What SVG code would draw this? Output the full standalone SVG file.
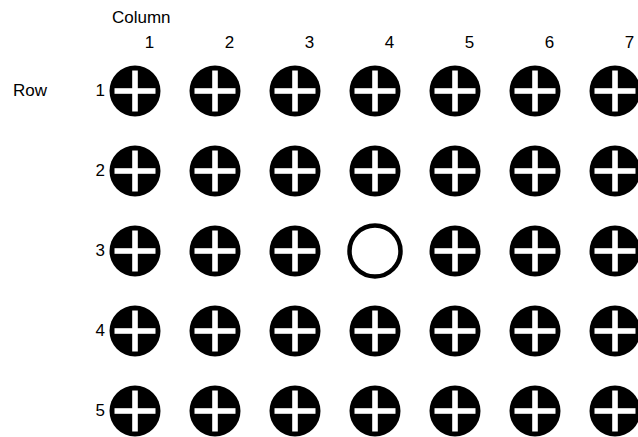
<svg xmlns="http://www.w3.org/2000/svg" width="638" height="437" viewBox="0 0 638 437">
<defs>
<style>
text{font-family:"Liberation Sans",Arial,sans-serif;font-size:17px;fill:#000}
.cl{text-anchor:middle}
.rl{text-anchor:end}
.bar{fill:#fff}
</style>
<g id="plus">
<circle r="25.5" fill="#000"/>
<rect x="-20.5" y="-2.8" width="41" height="5.6" class="bar"/>
<rect x="-2.8" y="-20.5" width="5.6" height="41" class="bar"/>
</g>
</defs>
<rect width="638" height="437" fill="#fff"/>
<g id="labels">
<text x="112" y="23">Column</text>
<text x="13" y="96">Row</text>
<text class="cl" x="149.5" y="48">1</text>
<text class="cl" x="229.5" y="48">2</text>
<text class="cl" x="309.5" y="48">3</text>
<text class="cl" x="389.5" y="48">4</text>
<text class="cl" x="469.5" y="48">5</text>
<text class="cl" x="549.5" y="48">6</text>
<text class="cl" x="629.5" y="48">7</text>
<text class="rl" x="105" y="96">1</text>
<text class="rl" x="105" y="176">2</text>
<text class="rl" x="105" y="256">3</text>
<text class="rl" x="105" y="336">4</text>
<text class="rl" x="105" y="416">5</text>
</g>
<g id="connectors"/>
<g id="row1">
<use href="#plus" x="135" y="91"/><use href="#plus" x="215" y="91"/><use href="#plus" x="295" y="91"/><use href="#plus" x="375" y="91"/><use href="#plus" x="455" y="91"/><use href="#plus" x="535" y="91"/><use href="#plus" x="615" y="91"/>
</g>
<g id="row2">
<use href="#plus" x="135" y="171"/><use href="#plus" x="215" y="171"/><use href="#plus" x="295" y="171"/><use href="#plus" x="375" y="171"/><use href="#plus" x="455" y="171"/><use href="#plus" x="535" y="171"/><use href="#plus" x="615" y="171"/>
</g>
<g id="row3">
<use href="#plus" x="135" y="251"/><use href="#plus" x="215" y="251"/><use href="#plus" x="295" y="251"/>
<circle id="empty" cx="375" cy="251" r="25.5" fill="#fff" stroke="#000" stroke-width="4.5"/>
<use href="#plus" x="455" y="251"/><use href="#plus" x="535" y="251"/><use href="#plus" x="615" y="251"/>
</g>
<g id="row4">
<use href="#plus" x="135" y="331"/><use href="#plus" x="215" y="331"/><use href="#plus" x="295" y="331"/><use href="#plus" x="375" y="331"/><use href="#plus" x="455" y="331"/><use href="#plus" x="535" y="331"/><use href="#plus" x="615" y="331"/>
</g>
<g id="row5">
<use href="#plus" x="135" y="411"/><use href="#plus" x="215" y="411"/><use href="#plus" x="295" y="411"/><use href="#plus" x="375" y="411"/><use href="#plus" x="455" y="411"/><use href="#plus" x="535" y="411"/><use href="#plus" x="615" y="411"/>
</g>
</svg>
